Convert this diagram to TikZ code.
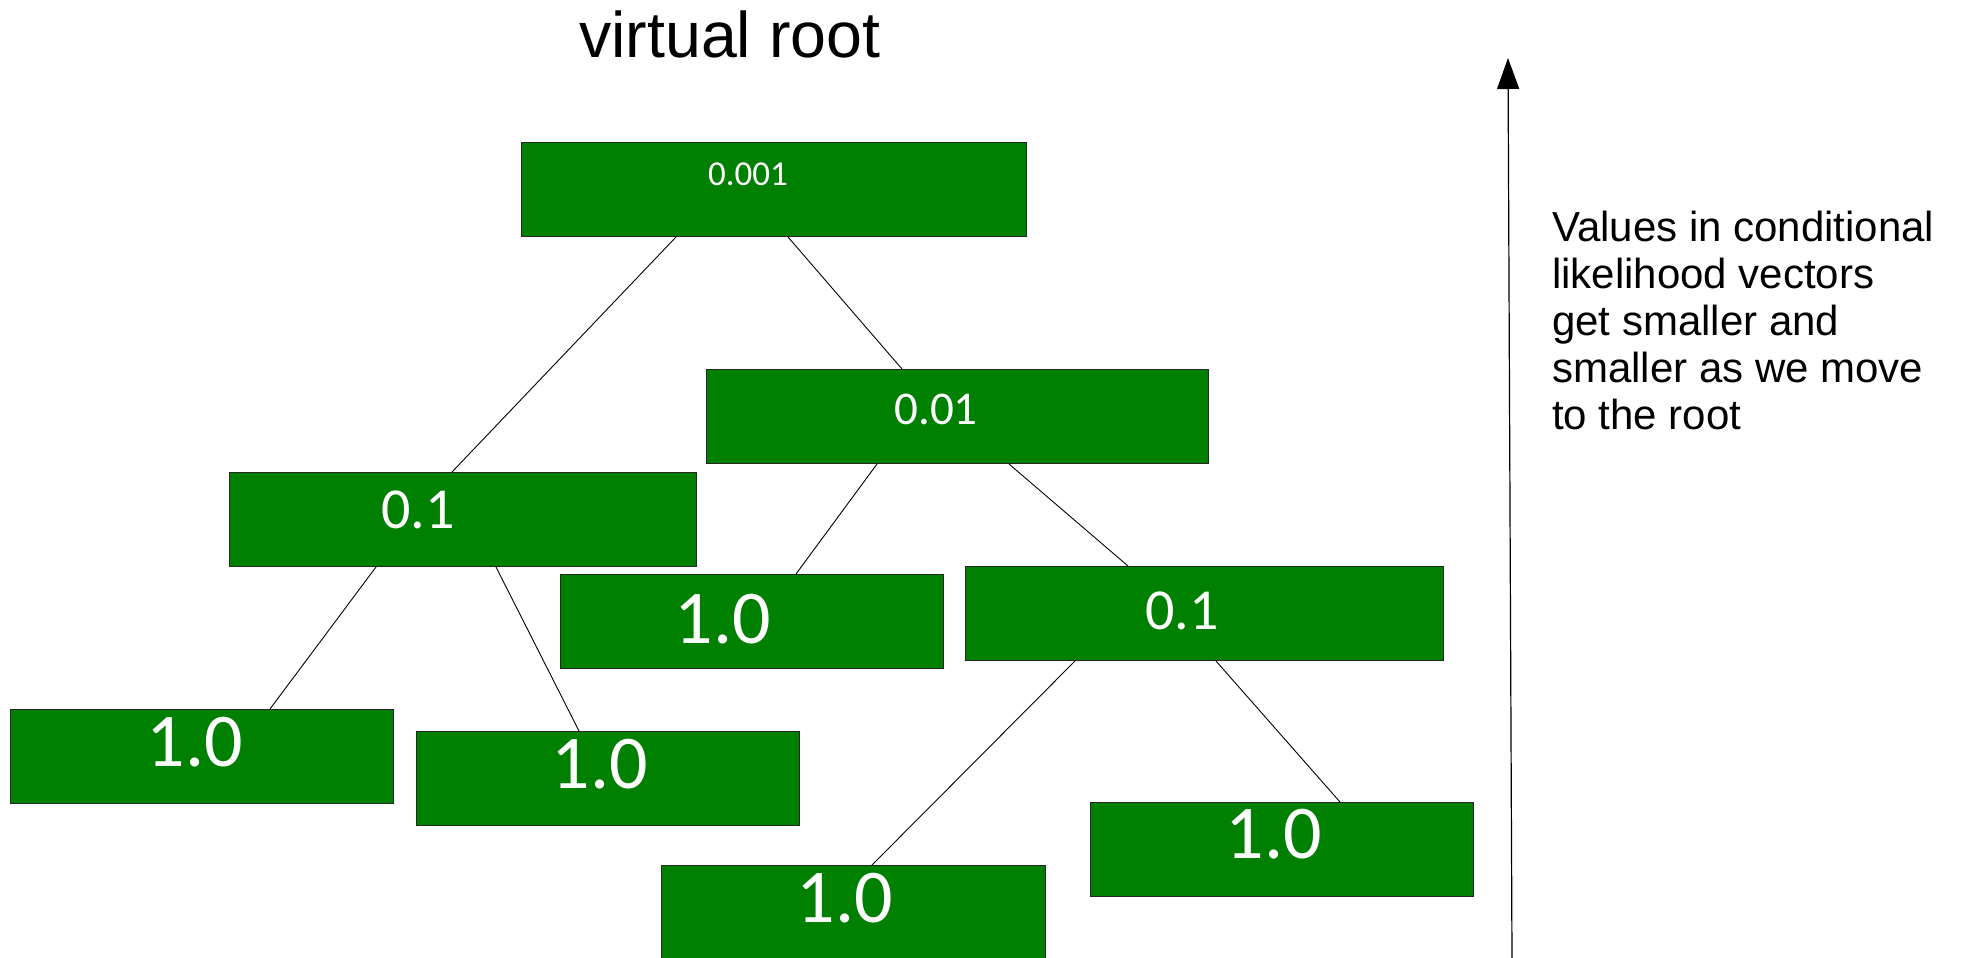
\documentclass[tikz,border=0pt]{standalone}
\usepackage{fontspec}
\setmainfont{Liberation Sans}
\newfontfamily\valfont{Carlito}
\usetikzlibrary{arrows.meta}
\definecolor{vecgreen}{RGB}{0,128,0}
\begin{document}
\begin{tikzpicture}[x=1pt,y=-1pt,
  vec/.style={rectangle, draw=black!85, line width=1pt, fill=vecgreen,
              inner sep=0pt, anchor=north west, minimum height=94pt},
  val/.style={anchor=base, inner sep=0pt, text=white,
              font=\valfont\fontsize{#1}{#1}\selectfont},
  link/.style={draw=black, line width=0.9pt}]
\useasboundingbox (0,0) rectangle (1963,958);

% conditional likelihood vectors
\node[vec, minimum width=505pt] (root) at (521,142) {};
\node[vec, minimum width=502pt] (mid)  at (706,369) {};
\node[vec, minimum width=467pt] (left) at (229,472) {};
\node[vec, minimum width=383pt] (tipM) at (560,574) {};
\node[vec, minimum width=478pt] (right) at (965,566) {};
\node[vec, minimum width=383pt] (tipA) at (10,709) {};
\node[vec, minimum width=383pt] (tipB) at (416,731) {};
\node[vec, minimum width=384pt] (tipC) at (661,865) {};
\node[vec, minimum width=383pt] (tipD) at (1090,802) {};

% values
\node[val=35] (vroot)  at (748,185) {0.001};
\node[val=47] (vmid)   at (936,424) {0.01};
\node[val=58] (vleft)  at (418,528) {0.1};
\node[val=76] (vtipM)  at (723,643) {1.0};
\node[val=58] (vright) at (1182,629) {0.1};
\node[val=76] (vtipA)  at (195,766) {1.0};
\node[val=76] (vtipB)  at (600,788) {1.0};
\node[val=76] (vtipC)  at (845,922) {1.0};
\node[val=76] (vtipD)  at (1274,858) {1.0};

% tree branches
\draw[link] ([xshift=155pt]root.south west) -- ([xshift=223pt]left.north west);
\draw[link] ([xshift=267pt]root.south west) -- ([xshift=196pt]mid.north west);
\draw[link] ([xshift=171pt]mid.south west)  -- ([xshift=236pt]tipM.north west);
\draw[link] ([xshift=303pt]mid.south west)  -- ([xshift=163pt]right.north west);
\draw[link] ([xshift=147pt]left.south west) -- ([xshift=260pt]tipA.north west);
\draw[link] ([xshift=267pt]left.south west) -- ([xshift=163pt]tipB.north west);
\draw[link] ([xshift=110pt]right.south west) -- ([xshift=211pt]tipC.north west);
\draw[link] ([xshift=251pt]right.south west) -- ([xshift=250pt]tipD.north west);

% title
\node[anchor=base west, inner sep=0pt, font=\fontsize{64.5}{70}\selectfont]
  (title) at (579,58) {virtual root};

% direction arrow and note
\coordinate (arrowfoot) at (1512,958);
\coordinate (arrowtip) at (1508,58);
\draw[line width=1.2pt, -{Triangle[width=22pt,length=31pt]}] (arrowfoot) -- (arrowtip);
% base anchor of a multi-line node sits on its last line
\node[anchor=base west, inner sep=0pt, align=left,
      font=\fontsize{42}{47}\selectfont] (note) at (1552,429)
  {Values in conditional\\likelihood vectors\\get smaller and\\smaller as we move\\to the root};
\end{tikzpicture}
\end{document}
